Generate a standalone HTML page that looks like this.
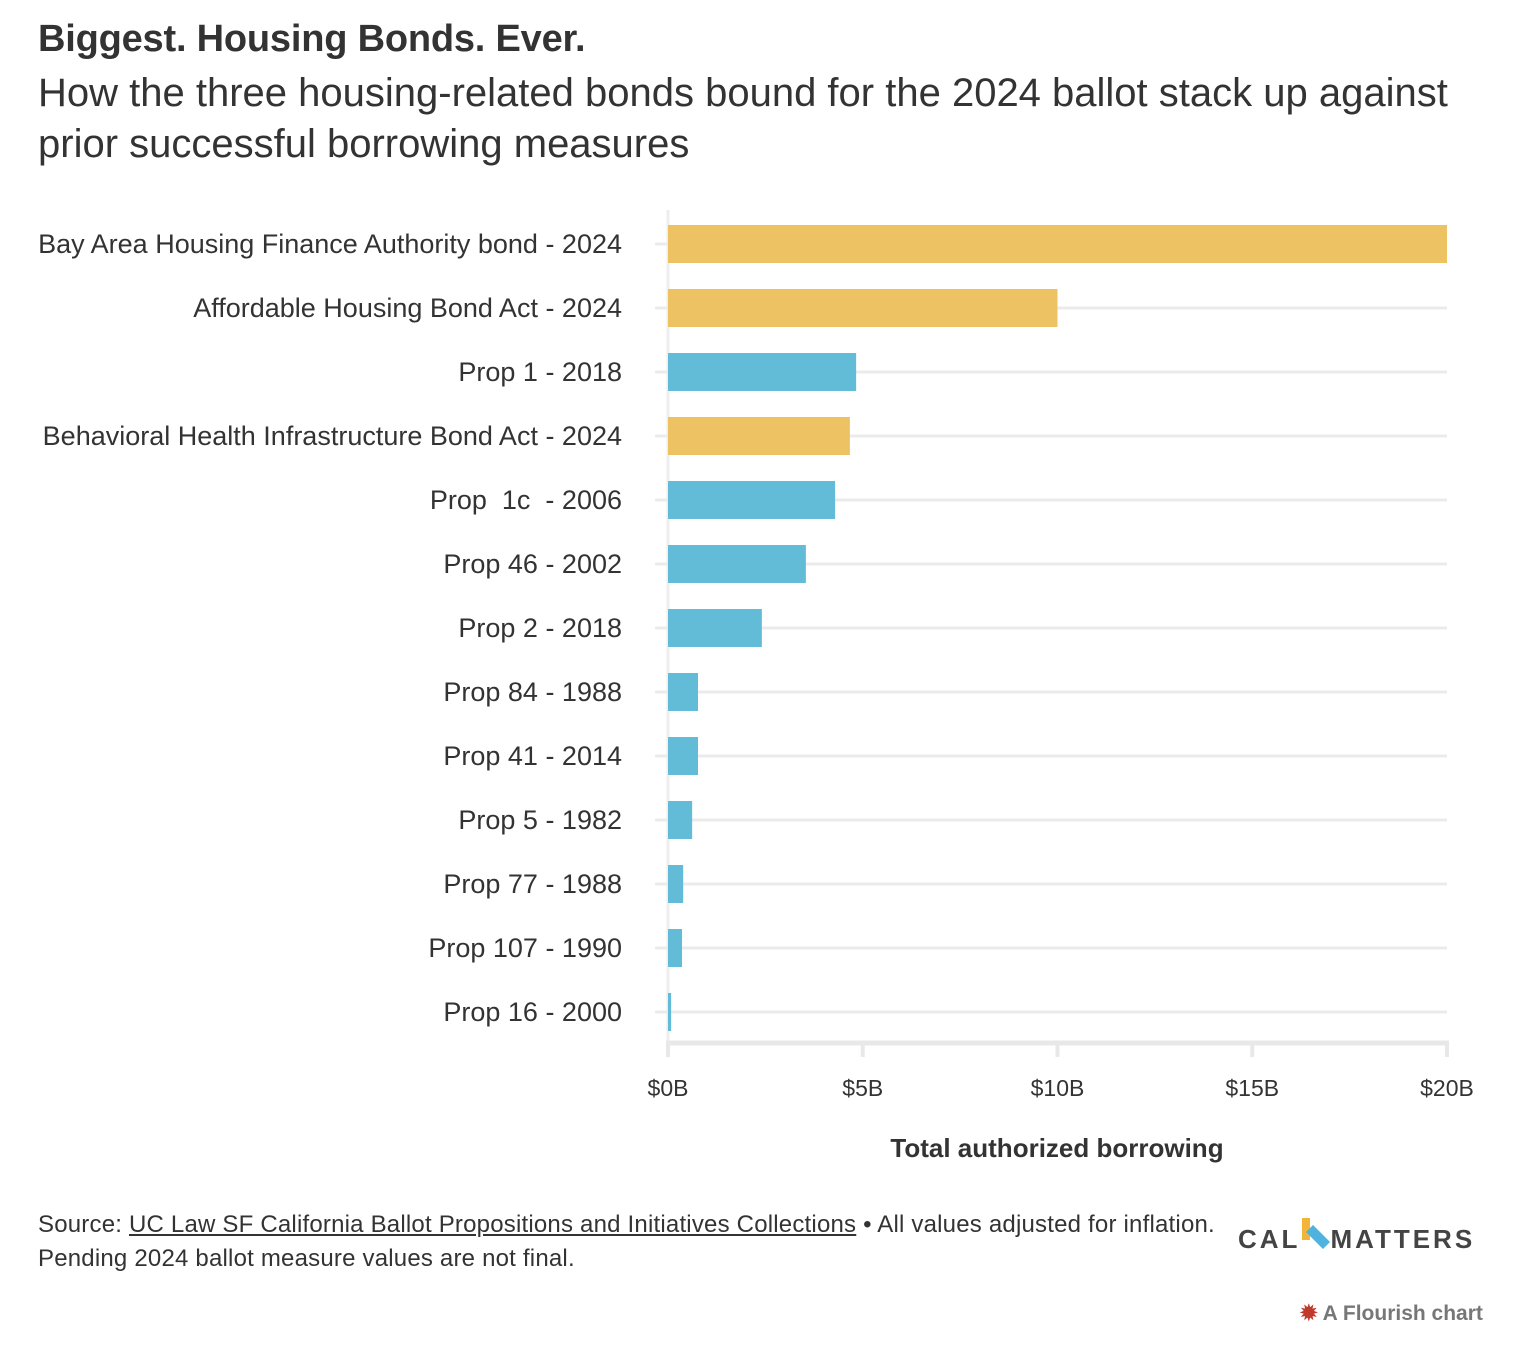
<!DOCTYPE html>
<html><head><meta charset="utf-8">
<style>
body{margin:0;width:1525px;height:1350px;background:#fff;font-family:"Liberation Sans",sans-serif;color:#333;overflow:hidden;position:relative}
.t{position:absolute;left:38px;top:18px;font-size:38px;font-weight:bold;color:#333;letter-spacing:-0.2px}
.s{position:absolute;left:38px;top:68px;width:1420px;font-size:40px;line-height:51px;color:#333;letter-spacing:0px}
.src{position:absolute;left:38px;top:1208px;font-size:24px;line-height:34px;color:#333;letter-spacing:0.2px}
.src u{color:#333}
</style></head><body>
<div class="t">Biggest. Housing Bonds. Ever.</div>
<div class="s">How the three housing-related bonds bound for the 2024 ballot stack up against prior successful borrowing measures</div>
<svg id="c" width="1525" height="1350" style="position:absolute;left:0;top:0"></svg>
<div class="src">Source: <u>UC Law SF California Ballot Propositions and Initiatives Collections</u> • All values adjusted for inflation.<br>Pending 2024 ballot measure values are not final.</div>
<div style="position:absolute;left:1238px;top:1222px;font-size:26px;font-weight:bold;color:#444;letter-spacing:3px">CAL<span style="display:inline-block;width:30px;height:30px;position:relative;vertical-align:-4px"><span style="position:absolute;left:2px;top:-4px;width:8px;height:22px;background:#f2b53a"></span><span style="position:absolute;left:6px;top:10px;width:24px;height:10px;background:#4fb3dd;transform:rotate(45deg)"></span></span>MATTERS</div>
<div style="position:absolute;left:1300px;top:1301px;font-size:21px;font-weight:bold;color:#777"><span style="color:#c0392b">✹</span> A Flourish chart</div>
<script>
const categories=["Bay Area Housing Finance Authority bond - 2024","Affordable Housing Bond Act - 2024","Prop 1 - 2018","Behavioral Health Infrastructure Bond Act - 2024","Prop  1c  - 2006","Prop 46 - 2002","Prop 2 - 2018","Prop 84 - 1988","Prop 41 - 2014","Prop 5 - 1982","Prop 77 - 1988","Prop 107 - 1990","Prop 16 - 2000"];
const values=[20,10,4.83,4.67,4.29,3.54,2.41,0.77,0.77,0.62,0.39,0.36,0.08];
const pending=[true,true,false,true,false,false,false,false,false,false,false,false,false];
const ticks=[0,5,10,15,20];
const tickLabels=["$0B","$5B","$10B","$15B","$20B"];
const svg=document.getElementById('c');const NS="http://www.w3.org/2000/svg";
const x=v=>668+v*(1447-668)/20;
const y=i=>244+i*64;
function mk(t,a,p){const e=document.createElementNS(NS,t);for(const k in a)e.setAttribute(k,a[k]);(p||svg).appendChild(e);return e;}
mk('line',{x1:668,y1:210,x2:668,y2:1043,stroke:'#eee','stroke-width':3});
categories.forEach((c,i)=>{
 const g=mk('line',{x1:655,y1:y(i),x2:1447,y2:y(i),stroke:'#ebebeb','stroke-width':3});
 
 
 const b=mk('rect',{x:x(0),y:y(i)-19,width:x(values[i])-x(0),height:38,fill:pending[i]?'#ecc263':'#62bcd8'});
 
 
 const t=mk('text',{x:622,y:y(i)+9,'text-anchor':'end','font-size':27,fill:'#333','font-family':'Liberation Sans, sans-serif'});
 t.textContent=c;t.style.whiteSpace='pre';
 
 
});
mk('line',{x1:666,y1:1043,x2:1449,y2:1043,stroke:'#e8e8e8','stroke-width':5});
ticks.forEach((v,i)=>{
 mk('line',{x1:x(v),y1:1043,x2:x(v),y2:1057,stroke:'#e8e8e8','stroke-width':4});
 const t=mk('text',{x:x(v),y:1096,'text-anchor':'middle','font-size':23,fill:'#333','font-family':'Liberation Sans, sans-serif'});
 t.textContent=tickLabels[i];
 
 
});
const at=mk('text',{x:1057,y:1157,'text-anchor':'middle','font-size':26,'font-weight':'bold',fill:'#333','font-family':'Liberation Sans, sans-serif'});
at.textContent="Total authorized borrowing";


</script>
</body></html>
